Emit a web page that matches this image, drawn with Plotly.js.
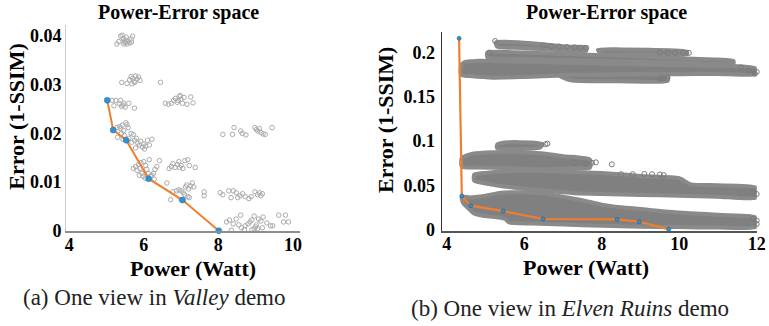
<!DOCTYPE html>
<html>
<head>
<meta charset="utf-8">
<script src="https://cdn.plot.ly/plotly-3.0.1.min.js"></script>
<style>html,body{margin:0;padding:0;background:#fff;}#chart{width:769px;height:326px;}</style>
</head>
<body>
<div id="chart"></div>
<script>
// ---------- (a) Valley demo: sampled configurations ----------
const valleyPower = [
  5.28,5.33,5.38,5.42,5.45,5.48,5.50,5.53,5.55,5.58,5.62,5.66,5.70,5.67,5.46,5.52,
  5.41,5.55,5.62,5.66,5.70,5.74,5.78,5.82,5.86,5.90,5.76,5.68,6.45,
  6.58,6.66,6.74,6.80,6.85,6.90,6.95,7.00,7.04,7.08,6.92,7.16,7.26,7.32,6.98,
  5.15,5.25,5.38,5.46,5.20,5.40,5.44,5.50,5.60,5.75,5.35,
  5.35,5.38,5.42,5.46,5.52,5.55,5.58,5.48,5.60,5.66,5.72,5.75,5.80,5.84,5.88,5.92,5.96,6.00,6.05,6.10,6.15,6.22,5.44,5.68,5.78,6.02,5.40,5.30,5.28,
  5.72,5.78,5.82,5.86,5.90,5.95,6.00,6.05,6.08,6.12,6.18,6.22,6.26,6.30,6.35,6.42,5.98,6.04,5.88,6.15,5.92,6.28,
  6.68,6.74,6.78,6.84,6.90,6.94,7.00,7.05,7.10,7.18,7.22,7.38,6.96,
  6.62,6.78,6.88,6.94,7.00,7.06,7.12,7.15,7.20,7.26,7.30,7.34,7.10,7.18,7.22,7.00,6.72,7.62,7.62,
  8.12,8.42,8.60,8.74,8.38,8.98,9.02,9.06,9.10,9.14,9.20,9.26,9.44,8.64,
  8.05,8.12,8.28,8.40,8.48,8.58,8.65,8.72,8.82,8.88,8.98,9.05,9.10,9.14,8.52,9.18,8.34,
  8.22,8.30,8.40,8.48,8.55,8.60,8.72,8.80,8.85,8.90,8.96,9.02,9.08,9.14,9.20,9.30,9.40,9.46,9.62,9.75,9.80,9.88,8.96,9.00,8.90,9.05,8.35,9.18,8.62,8.70
];
const valleyError = [
  .0384,.0389,.0400,.0402,.0395,.0390,.0386,.0398,.0384,.0389,.0386,.0394,.0400,.0388,.0384,.0392,
  .0305,.0303,.0310,.0317,.0313,.0307,.0318,.0312,.0316,.0309,.0305,.0302,.0305,
  .0262,.0260,.0262,.0268,.0272,.0264,.0276,.0270,.0262,.0274,.0268,.0260,.0275,.0263,.0278,
  .0268,.0268,.0268,.0262,.0257,.0256,.0258,.0254,.0262,.0252,.0261,
  .0214,.0210,.0217,.0206,.0222,.0218,.0212,.0196,.0190,.0200,.0198,.0186,.0190,.0180,.0176,.0184,.0172,.0178,.0174,.0186,.0176,.0188,.0188,.0182,.0170,.0168,.0200,.0192,.0212,
  .0128,.0132,.0124,.0136,.0128,.0118,.0142,.0134,.0126,.0118,.0112,.0114,.0118,.0126,.0132,.0144,.0112,.0108,.0114,.0146,.0140,.0106,
  .0128,.0132,.0138,.0130,.0136,.0142,.0134,.0128,.0144,.0146,.0134,.0130,.0130,
  .0098,.0080,.0082,.0084,.0082,.0078,.0090,.0094,.0086,.0092,.0098,.0090,.0074,.0070,.0068,.0064,.0064,.0072,.0080,
  .0198,.0212,.0205,.0197,.0198,.0212,.0208,.0205,.0210,.0202,.0199,.0198,.0212,.0200,
  .0078,.0074,.0082,.0082,.0078,.0072,.0076,.0070,.0066,.0070,.0080,.0074,.0078,.0072,.0068,.0076,.0068,
  .0018,.0022,.0014,.0024,.0012,.0032,.0010,.0014,.0018,.0022,.0030,.0012,.0024,.0020,.0028,.0016,.0010,.0010,.0032,.0018,.0032,.0018,.0004,.0008,.0002,.0004,.0001,.0006,.0006,.0002
];
const valleyFrontPower = [5.02, 5.18, 5.53, 6.13, 7.04, 8.01];
const valleyFrontError = [0.0268, 0.0207, 0.0186, 0.0107, 0.0063, 0.0];

// ---------- (b) Elven Ruins demo: dense bands of sampled configurations (outlines) ----------
const bandT1Power = [5.27,5.6,6.2,6.8,7.2,7.6,7.6,7.0,6.4,5.8,5.3];
const bandT1Error = [0.212,0.2125,0.211,0.2085,0.207,0.2062,0.2025,0.2028,0.2045,0.2058,0.207];
const bandT2Power = [7.9,8.5,9.2,10.2,10.2,9.0,8.0];
const bandT2Error = [0.2035,0.204,0.2035,0.2015,0.1985,0.1985,0.199];
const bandT3Power = [5.05,6.0,7.0,8.0,9.0,10.0,11.0,11.4,11.4,10.0,8.0,6.0,5.05];
const bandT3Error = [0.2005,0.2005,0.199,0.1975,0.196,0.194,0.1925,0.191,0.188,0.189,0.191,0.193,0.195];
const bandT4Power = [4.37,4.45,4.8,6.0,8.0,10.0,11.5,12.0,12.0,11.0,10.0,9.0,8.0,7.0,6.0,5.2,4.6,4.37];
const bandT4Error = [0.185,0.1895,0.191,0.190,0.188,0.186,0.185,0.182,0.176,0.1762,0.1758,0.176,0.1752,0.1745,0.1728,0.172,0.1738,0.175];
const bandT5Power = [6.9,8.0,9.7,9.7,8.5,7.2];
const bandT5Error = [0.1745,0.1752,0.1742,0.1685,0.168,0.169];
const bandM1Power = [5.3,5.5,6.2,6.48,6.4,5.8,5.3];
const bandM1Error = [0.096,0.0985,0.0985,0.0965,0.0925,0.091,0.092];
const bandM2Power = [4.39,4.6,5.0,5.8,6.5,7.0,7.5,7.7,7.7,7.2,6.5,5.5,4.8,4.39];
const bandM2Error = [0.081,0.085,0.087,0.0875,0.086,0.083,0.081,0.079,0.070,0.069,0.068,0.0695,0.070,0.071];
const bandM3Power = [4.71,5.0,5.6,6.5,7.3,8.0,9.0,10.0,10.3,11.0,12.0,12.0,11.0,10.0,9.0,8.0,7.3,6.5,5.6,5.0,4.71];
const bandM3Error = [0.062,0.064,0.066,0.066,0.065,0.064,0.0605,0.058,0.051,0.050,0.047,0.036,0.037,0.038,0.039,0.040,0.041,0.044,0.048,0.052,0.055];
const bandB1Power = [4.39,4.6,5.0,5.4,6.0,6.5,7.0,7.5,8.0,8.5,9.0,10.0,11.0,11.8,12.0,12.0,11.0,10.0,9.0,8.0,7.0,6.2,5.6,5.5,5.0,4.7,4.55,4.42];
const bandB1Error = [0.037,0.036,0.038,0.0415,0.042,0.0405,0.037,0.033,0.028,0.025,0.023,0.019,0.0165,0.015,0.013,0.003,0.002,0.0025,0.003,0.004,0.0055,0.0065,0.008,0.012,0.015,0.018,0.024,0.030];
// sparse configurations around the band edges
const ruinsSparsePower = [6.5,6.7,6.9,7.1,7.3,7.45,7.6,9.5,9.7,9.9,10.1,10.25,11.6,11.8,11.9,12.0,11.95,9.5,9.6,9.7,6.55,6.6,7.6,7.75,7.85,8.26,8.5,8.8,9.1,9.3,9.5,9.6,12.0,11.9,12.0,11.9,12.0,7.3,5.25,5.1];
const ruinsSparseError = [0.2085,0.2075,0.2072,0.2068,0.2063,0.2058,0.2058,0.2005,0.2003,0.2002,0.2002,0.2001,0.1835,0.1800,0.1792,0.1785,0.1765,0.1715,0.1712,0.1718,0.0965,0.0972,0.0745,0.0755,0.0760,0.0737,0.0625,0.0625,0.0628,0.0625,0.0622,0.0615,0.040,0.0425,0.010,0.012,0.006,0.0755,0.2135,0.2005];
const ruinsFrontPower = [4.32, 4.39, 4.62, 5.46, 6.49, 8.40, 8.97, 9.73];
const ruinsFrontError = [0.2166, 0.0378, 0.0268, 0.0207, 0.0117, 0.0113, 0.0086, 0.0];

const SERIF = 'Liberation Serif, Times New Roman, serif';
const GRAY_BAND = 'rgb(128,128,128)';
const ORANGE = '#F07E2E';
const BLUE = '#2E93D6';

function band(px, py) {
  return {x: px.concat([px[0]]), y: py.concat([py[0]]), xaxis: 'x2', yaxis: 'y2', type: 'scatter', mode: 'lines',
    fill: 'toself', fillcolor: GRAY_BAND, line: {color: 'rgb(138,138,138)', width: 4, shape: 'spline', smoothing: 0.6},
    hoverinfo: 'skip', cliponaxis: false};
}

const traces = [
  {x: valleyPower, y: valleyError, type: 'scatter', mode: 'markers', xaxis: 'x', yaxis: 'y', cliponaxis: false,
   marker: {symbol: 'circle-open', size: 4.5, color: '#ababab', line: {width: 1}}},
  {x: valleyFrontPower, y: valleyFrontError, type: 'scatter', mode: 'lines+markers', xaxis: 'x', yaxis: 'y', cliponaxis: false,
   line: {color: ORANGE, width: 2}, marker: {size: 6, color: BLUE, line: {color: '#2a6f9e', width: 0.5}}},
  band(bandT1Power, bandT1Error), band(bandT2Power, bandT2Error), band(bandT3Power, bandT3Error),
  band(bandT4Power, bandT4Error), band(bandT5Power, bandT5Error), band(bandM1Power, bandM1Error),
  band(bandM2Power, bandM2Error), band(bandM3Power, bandM3Error), band(bandB1Power, bandB1Error),
  {x: ruinsSparsePower, y: ruinsSparseError, type: 'scatter', mode: 'markers', xaxis: 'x2', yaxis: 'y2', cliponaxis: false,
   marker: {symbol: 'circle-open', size: 5, color: '#7a7a7a', line: {width: 1}}},
  {x: ruinsFrontPower, y: ruinsFrontError, type: 'scatter', mode: 'lines+markers', xaxis: 'x2', yaxis: 'y2', cliponaxis: false,
   line: {color: ORANGE, width: 2.2}, marker: {size: 4, color: BLUE, line: {color: '#1d4f75', width: 0.5}}}
];

const tickFont = {family: SERIF, size: 18, color: '#000', weight: 'bold'};
const baseAxis = {showgrid: false, zeroline: false, showline: true, ticks: '', tickfont: tickFont, fixedrange: true};

function ann(text, x, y, size, opts) {
  return Object.assign({text: text, x: x, y: y, xref: 'paper', yref: 'paper', xanchor: 'center', yanchor: 'middle',
    showarrow: false, font: {family: SERIF, size: size, color: '#000', weight: 'bold'}}, opts || {});
}

const layout = {
  width: 769, height: 326, margin: {l: 0, r: 0, t: 0, b: 0},
  paper_bgcolor: '#fff', plot_bgcolor: '#fff', showlegend: false,
  xaxis: Object.assign({}, baseAxis, {domain: [66/769, 300/769], range: [3.914, 10.19], tickvals: [4, 6, 8, 10],
    linecolor: '#8e8e8e', linewidth: 2, anchor: 'y', ticklabelstandoff: -3}),
  yaxis: Object.assign({}, baseAxis, {domain: [1 - 230.7/326, 1 - 25/326], range: [0, 0.0423],
    tickvals: [0, 0.01, 0.02, 0.03, 0.04], ticktext: ['0', '0.01', '0.02', '0.03', '0.04'],
    linecolor: '#cccccc', linewidth: 1, anchor: 'x'}),
  xaxis2: Object.assign({}, baseAxis, {domain: [441.7/769, 756.7/769], range: [3.871, 12.0], tickvals: [4, 6, 8, 10, 12],
    linecolor: '#555555', linewidth: 1.5, anchor: 'y2', ticklabelstandoff: -4}),
  yaxis2: Object.assign({}, baseAxis, {domain: [1 - 231/326, 1 - 32.3/326], range: [-0.0019, 0.2234],
    tickvals: [0, 0.05, 0.1, 0.15, 0.2], ticktext: ['0', '0.05', '0.1', '0.15', '0.2'],
    linecolor: '#333333', linewidth: 1, anchor: 'x2', ticklabelstandoff: 2}),
  annotations: [
    ann('Power-Error space', 178/769, 1 - 13/326, 20),
    ann('Power-Error space', 606.7/769, 1 - 12.5/326, 20),
    ann('Power (Watt)', 192.7/769, 1 - 268/326, 22),
    ann('Power (Watt)', 585.8/769, 1 - 267.5/326, 22),
    ann('Error (1-SSIM)', 17/769, 1 - 116.7/326, 22, {textangle: -90}),
    ann('Error (1-SSIM)', 385/769, 1 - 120/326, 22, {textangle: -90}),
    ann('(a) One view in <i>Valley</i> demo', 154/769, 1 - 297/326, 23,
      {font: {family: SERIF, size: 23, color: '#222'}}),
    ann('(b) One view in <i>Elven Ruins</i> demo', 570/769, 1 - 308/326, 23,
      {font: {family: SERIF, size: 23, color: '#222'}})
  ]
};

Plotly.newPlot('chart', traces, layout, {staticPlot: true, displayModeBar: false});
</script>
</body>
</html>
